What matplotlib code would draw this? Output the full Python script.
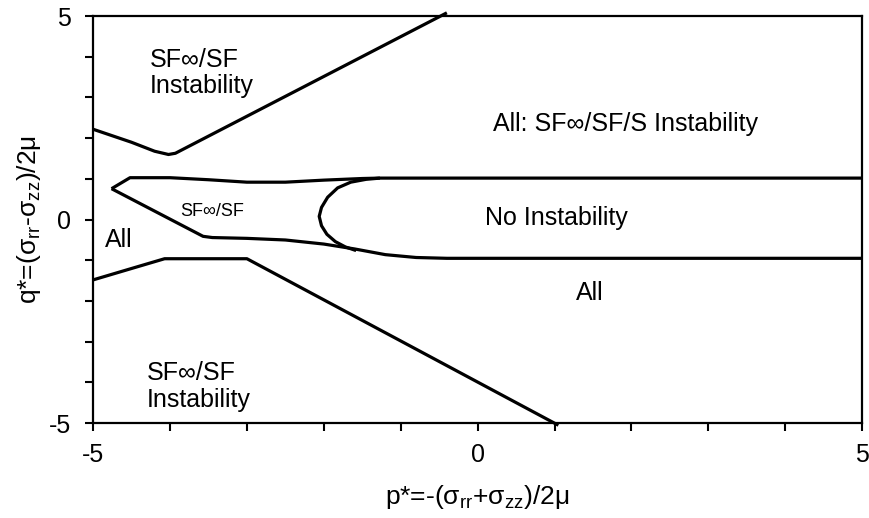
import matplotlib.pyplot as plt
from matplotlib.ticker import FixedLocator, FuncFormatter

plt.rcParams['font.family'] = ['Liberation Sans', 'DejaVu Sans']
plt.rcParams['mathtext.fontset'] = 'custom'
plt.rcParams['mathtext.rm'] = 'Liberation Sans'
plt.rcParams['mathtext.it'] = 'Liberation Sans'

# upper boundary of the "All" region (SF∞/SF above it)
upper_p = [-5.0, -4.5, -4.2, -4.02, -3.93, -0.4]
upper_q = [2.22, 1.9, 1.68, 1.6, 1.63, 5.08]

# lower boundary of the "All" region
lower_p = [-5.0, -4.5, -4.07, -3.0, 1.05]
lower_q = [-1.48, -1.2, -0.96, -0.96, -5.05]

# SF∞/SF wedge, top edge (continues as the q=1 line)
wedge_top_p = [-4.76, -4.52, -4.0, -3.5, -3.0, -2.5, -2.0, -1.5, -1.27, 5.0]
wedge_top_q = [0.76, 1.03, 1.03, 0.98, 0.92, 0.92, 0.97, 1.01, 1.02, 1.02]

# SF∞/SF wedge, bottom edge (continues as the q=-1 line)
wedge_bot_p = [-4.76, -3.57, -3.45, -3.0, -2.5, -2.0, -1.6, -1.2, -0.8, -0.4, 5.0]
wedge_bot_q = [0.76, -0.41, -0.44, -0.46, -0.5, -0.6, -0.72, -0.86, -0.93, -0.95, -0.95]

# left edge of the "No Instability" region
bubble_p = [-1.27, -1.45, -1.65, -1.82, -1.95, -2.03, -2.06, -2.03, -1.96, -1.85, -1.72, -1.58]
bubble_q = [1.02, 0.99, 0.92, 0.78, 0.55, 0.3, 0.08, -0.15, -0.36, -0.54, -0.67, -0.76]

fig = plt.figure(figsize=(8.7, 5.18), dpi=100)
ax = fig.add_axes([0.107, 0.183, 0.884, 0.786])

lw = 2.3
for xs, ys in [(upper_p, upper_q), (lower_p, lower_q), (wedge_top_p, wedge_top_q),
               (wedge_bot_p, wedge_bot_q), (bubble_p, bubble_q)]:
    ax.plot(xs, ys, color='black', linewidth=lw, solid_capstyle='butt', clip_on=False)

ax.set_xlim(-5, 5)
ax.set_ylim(-5, 5)

ticks = [-5, -4, -3, -2, -1, 0, 1, 2, 3, 4, 5]
fmt = FuncFormatter(lambda v, pos: '%d' % v if v in (-5, 0, 5) else '')
ax.xaxis.set_major_locator(FixedLocator(ticks))
ax.yaxis.set_major_locator(FixedLocator(ticks))
ax.xaxis.set_major_formatter(fmt)
ax.yaxis.set_major_formatter(fmt)
ax.tick_params(axis='both', direction='out', length=6, width=1.5, labelsize=18, color='black')
ax.tick_params(axis='x', pad=8)
ax.tick_params(axis='y', pad=10)
for s in ax.spines.values():
    s.set_linewidth(1.6)

ax.set_xlabel(r'p*=-(σ$_{\rm rr}$+σ$_{\rm zz}$)/2μ', fontsize=19, labelpad=12)
ax.set_ylabel(r'q*=(σ$_{\rm rr}$-σ$_{\rm zz}$)/2μ', fontsize=19, labelpad=4)

fs = 18
ax.text(-4.26, 3.6, 'SF∞/SF\nInstability', fontsize=fs, ha='left', va='center', linespacing=1.1)
ax.text(-4.3, -4.1, 'SF∞/SF\nInstability', fontsize=fs, ha='left', va='center', linespacing=1.15)
ax.text(0.2, 2.35, 'All: SF∞/SF/S Instability', fontsize=fs, ha='left', va='center')
ax.text(1.03, 0.05, 'No Instability', fontsize=fs, ha='center', va='center')
ax.text(1.46, -1.8, 'All', fontsize=fs, ha='center', va='center')
ax.text(-4.66, -0.5, 'All', fontsize=fs, ha='center', va='center')
ax.text(-3.45, 0.2, 'SF∞/SF', fontsize=13, ha='center', va='center')

fig.savefig('out.png', dpi=100)
